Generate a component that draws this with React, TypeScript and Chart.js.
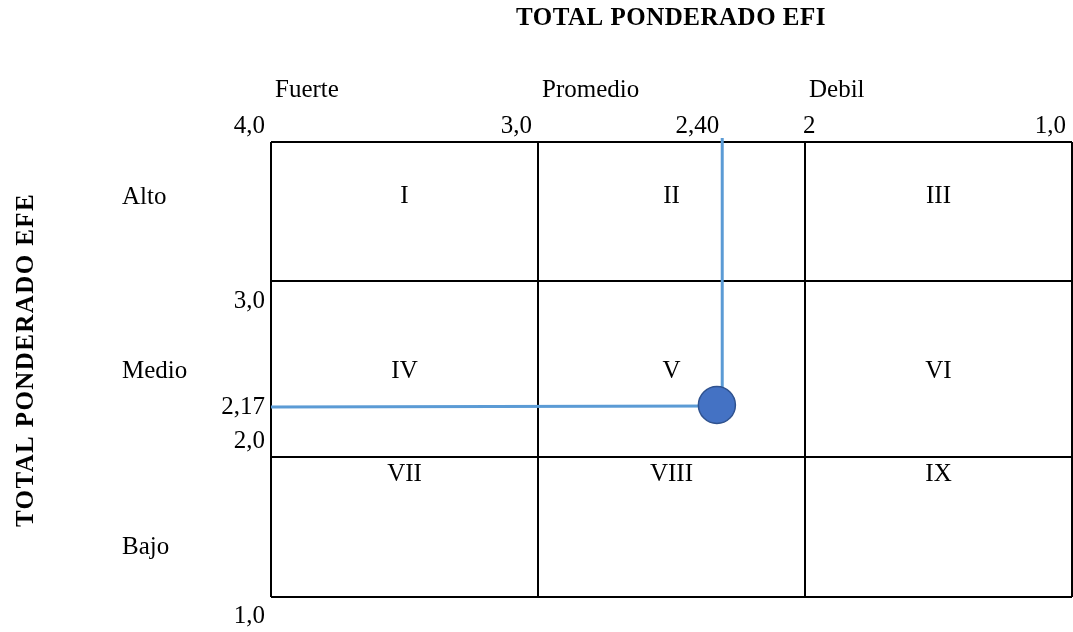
import React, { useEffect, useRef } from "react";
import { Chart, registerables } from "chart.js";

Chart.register(...registerables);

// ---- data ----
const titleX = "TOTAL PONDERADO EFI";
const titleY = "TOTAL PONDERADO EFE";
const efiBounds = [4, 3, 2, 1]; // column boundaries (reversed axis)
const efiBoundLabels = ["4,0", "3,0", "2", "1,0"];
const efeBounds = [4, 3.083, 1.923, 1]; // row boundaries as drawn
const efeBoundLabels = ["", "3,0", "2,0", "1,0"];
const colHeaders = ["Fuerte", "Promedio", "Debil"];
const rowHeaders = ["Alto", "Medio", "Bajo"];
const cellLabels = ["I", "II", "III", "IV", "V", "VI", "VII", "VIII", "IX"];
const efiValue = 2.33; // point position
const efiLineX = 2.31; // vertical guide position
const efiLabel = "2,40";
const efeValue = 2.266;
const efeLineY = [2.253, 2.259];
const efeLabel = "2,17";
const vLineTop = 4.026;

const FONT = '"Liberation Serif", "Times New Roman", serif';

const textPlugin = {
  id: "ieText",
  afterDraw(chart: any) {
    const ctx = chart.ctx;
    const xs = chart.scales.x;
    const ys = chart.scales.y;
    const X = (v: number) => xs.getPixelForValue(v);
    const Y = (v: number) => ys.getPixelForValue(v);
    const top = chart.chartArea.top;
    ctx.save();
    ctx.fillStyle = "#000";
    ctx.textBaseline = "alphabetic";

    // titles
    ctx.font = `bold 25px ${FONT}`;
    (ctx as any).letterSpacing = "0.5px";
    ctx.textAlign = "center";
    ctx.fillText(titleX, 671, 25);
    ctx.save();
    ctx.translate(33, 360);
    ctx.rotate(-Math.PI / 2);
    (ctx as any).letterSpacing = "1.4px";
    ctx.fillText(titleY, 0, 0);
    ctx.restore();
    (ctx as any).letterSpacing = "0px";

    ctx.font = `25px ${FONT}`;
    // column headers
    ctx.textAlign = "left";
    colHeaders.forEach((h, i) => {
      ctx.fillText(h, X(efiBounds[i]) + 4, top - 45);
    });
    // x boundary labels
    efiBoundLabels.forEach((l, i) => {
      const px = X(efiBounds[i]);
      if (l === "2") {
        ctx.textAlign = "left";
        ctx.fillText(l, px - 2, top - 9);
      } else {
        ctx.textAlign = "right";
        ctx.fillText(l, px - 6, top - 9);
      }
    });
    ctx.textAlign = "right";
    ctx.fillText(efiLabel, X(efiLineX) - 3, top - 9);

    // y labels
    const yOff = [0, 27, -9, 26];
    efeBoundLabels.forEach((l, i) => {
      if (!l) return;
      ctx.fillText(l, 265, Y(efeBounds[i]) + yOff[i]);
    });
    ctx.fillText(efeLabel, 265, Y(efeLineY[0]) + 7);

    // row headers
    ctx.textAlign = "left";
    const rowOff = [62, 97, 97];
    rowHeaders.forEach((h, i) => {
      ctx.fillText(h, 122, Y(efeBounds[i]) + rowOff[i]);
    });

    // cell labels
    ctx.textAlign = "center";
    const cellOff = [61, 97, 24];
    for (let r = 0; r < 3; r++) {
      for (let c = 0; c < 3; c++) {
        const cx = (X(efiBounds[c]) + X(efiBounds[c + 1])) / 2;
        ctx.fillText(cellLabels[r * 3 + c], cx, Y(efeBounds[r]) + cellOff[r]);
      }
    }
    ctx.restore();
  },
};

export default function App() {
  const ref = useRef<HTMLCanvasElement>(null);
  useEffect(() => {
    if (!ref.current) return;
    const chart = new Chart(ref.current, {
      type: "scatter",
      data: {
        datasets: [
          {
            type: "scatter",
            data: [{ x: efiValue, y: efeValue }],
            pointRadius: 18.5,
            pointHoverRadius: 18.5,
            backgroundColor: "#4472C4",
            borderColor: "#2F528F",
            borderWidth: 1.5,
            order: 0,
            clip: false as any,
          },
          {
            type: "line",
            data: [
              { x: efiLineX, y: vLineTop },
              { x: efiLineX, y: efeValue },
            ],
            borderColor: "#5B9BD5",
            borderWidth: 3,
            pointRadius: 0,
            order: 1,
            clip: false as any,
          },
          {
            type: "line",
            data: [
              { x: efiBounds[0], y: efeLineY[0] },
              { x: efiValue, y: efeLineY[1] },
            ],
            borderColor: "#5B9BD5",
            borderWidth: 3,
            pointRadius: 0,
            order: 2,
            clip: false as any,
          },
        ],
      } as any,
      options: {
        animation: false,
        responsive: false,
        devicePixelRatio: 1,
        layout: { autoPadding: false, padding: { left: 271, top: 142, right: 1, bottom: 35 } },
        plugins: { legend: { display: false }, tooltip: { enabled: false }, title: { display: false } },
        events: [],
        scales: {
          x: {
            type: "linear",
            min: 1,
            max: 4,
            reverse: true,
            position: "bottom",
            ticks: { display: false },
            grid: { color: "#000", lineWidth: 2, drawTicks: false },
            border: { display: false },
            afterBuildTicks: (s: any) => {
              s.ticks = efiBounds.map((v) => ({ value: v }));
            },
            afterFit: (s: any) => {
              s.height = 0;
            },
          },
          y: {
            type: "linear",
            min: 1,
            max: 4,
            ticks: { display: false },
            grid: { color: "#000", lineWidth: 2, drawTicks: false },
            border: { display: false },
            afterBuildTicks: (s: any) => {
              s.ticks = efeBounds.map((v) => ({ value: v }));
            },
            afterFit: (s: any) => {
              s.width = 0;
            },
          },
        },
      } as any,
      plugins: [textPlugin],
    });
    return () => chart.destroy();
  }, []);
  return (
    <div style={{ position: "absolute", left: 0, top: 0, width: 1073, height: 632, background: "#fff" }}>
      <canvas ref={ref} width={1073} height={632} style={{ display: "block" }} />
    </div>
  );
}
